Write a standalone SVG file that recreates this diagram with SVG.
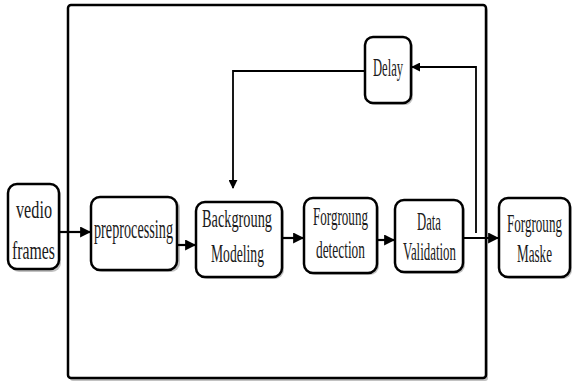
<svg xmlns="http://www.w3.org/2000/svg" width="574" height="385" viewBox="0 0 574 385">
<defs>
<marker id="ah" viewBox="0 0 10 10" refX="9" refY="5" markerWidth="5" markerHeight="5" markerUnits="strokeWidth" orient="auto"><path d="M0,0 L10,5 L0,10 z" fill="#000"/></marker>
<marker id="ahs" viewBox="0 0 10 10" refX="9" refY="5" markerWidth="5" markerHeight="5" markerUnits="strokeWidth" orient="auto"><path d="M0,0 L10,5 L0,10 z" fill="#000"/></marker>
</defs>
<style>
.box{fill:#fff;stroke:#000;stroke-width:2.5}
.sh{fill:#9a9a9a;stroke:none;opacity:0.6}
.t{font-family:"Liberation Serif","Times New Roman",serif;font-size:25px;fill:#1a1a1a}
.big{font-size:28px}
.c{fill:none;stroke:#000;stroke-width:2.2}
.f{fill:none;stroke:#000;stroke-width:1.8}
</style>
<rect width="574" height="385" fill="#fff"/>
<g id="frame">
<rect class="sh" x="70" y="8" width="418" height="373" rx="3"/>
<rect x="68" y="5" width="418" height="373" rx="3" fill="#fff" stroke="#000" stroke-width="2.5"/>
</g>
<g id="vedio">
<rect class="sh" x="10" y="186" width="51" height="86" rx="9"/>
<rect class="box" x="8" y="184" width="51" height="85" rx="9"/>
<text class="t" x="16" y="218" textLength="36" lengthAdjust="spacingAndGlyphs">vedio</text>
<text class="t" x="12" y="259" textLength="43" lengthAdjust="spacingAndGlyphs">frames</text>
</g>
<g id="preprocessing">
<rect class="sh" x="93" y="199" width="87" height="73" rx="9"/>
<rect class="box" x="91" y="197" width="86" height="73" rx="9"/>
<text class="t big" x="94" y="238" textLength="79" lengthAdjust="spacingAndGlyphs">preprocessing</text>
</g>
<g id="background">
<rect class="sh" x="198" y="204" width="86" height="75" rx="9"/>
<rect class="box" x="196" y="202" width="86" height="75" rx="9"/>
<text class="t" x="202" y="227" textLength="70" lengthAdjust="spacingAndGlyphs">Backgroung</text>
<text class="t" x="211" y="262" textLength="53" lengthAdjust="spacingAndGlyphs">Modeling</text>
</g>
<g id="foreground">
<rect class="sh" x="306" y="200" width="73" height="75" rx="9"/>
<rect class="box" x="304" y="198" width="73" height="75" rx="9"/>
<text class="t" x="313" y="225" textLength="55" lengthAdjust="spacingAndGlyphs">Forgroung</text>
<text class="t" x="316" y="258" textLength="49" lengthAdjust="spacingAndGlyphs">detection</text>
</g>
<g id="validation">
<rect class="sh" x="397" y="202" width="68" height="72" rx="9"/>
<rect class="box" x="395" y="200" width="68" height="72" rx="9"/>
<text class="t" x="417" y="230" textLength="24" lengthAdjust="spacingAndGlyphs">Data</text>
<text class="t" x="403" y="260" textLength="53" lengthAdjust="spacingAndGlyphs">Validation</text>
</g>
<g id="mask">
<rect class="sh" x="501" y="200" width="71" height="79" rx="9"/>
<rect class="box" x="499" y="198" width="71" height="79" rx="9"/>
<text class="t" x="507" y="232" textLength="55" lengthAdjust="spacingAndGlyphs">Forgroung</text>
<text class="t" x="517" y="262" textLength="35" lengthAdjust="spacingAndGlyphs">Maske</text>
</g>
<g id="delay">
<rect class="sh" x="367" y="39" width="46" height="66" rx="8"/>
<rect class="box" x="365" y="37" width="46" height="66" rx="8"/>
<text class="t" x="373" y="76" textLength="30" lengthAdjust="spacingAndGlyphs">Delay</text>
</g>
<g id="connectors">
<line class="c" x1="59" y1="232" x2="90" y2="232" marker-end="url(#ah)"/>
<line class="c" x1="177" y1="245" x2="195" y2="245" marker-end="url(#ah)"/>
<line class="c" x1="282" y1="238" x2="303" y2="238" marker-end="url(#ah)"/>
<line class="c" x1="377" y1="240" x2="394" y2="240" marker-end="url(#ah)"/>
<line class="c" x1="463" y1="238" x2="498" y2="238" marker-end="url(#ah)"/>
<polyline class="f" points="476,233 476,67 412,67" marker-end="url(#ahs)"/>
<polyline class="f" points="365,71 233,71 233,188" marker-end="url(#ahs)"/>
</g>
</svg>
